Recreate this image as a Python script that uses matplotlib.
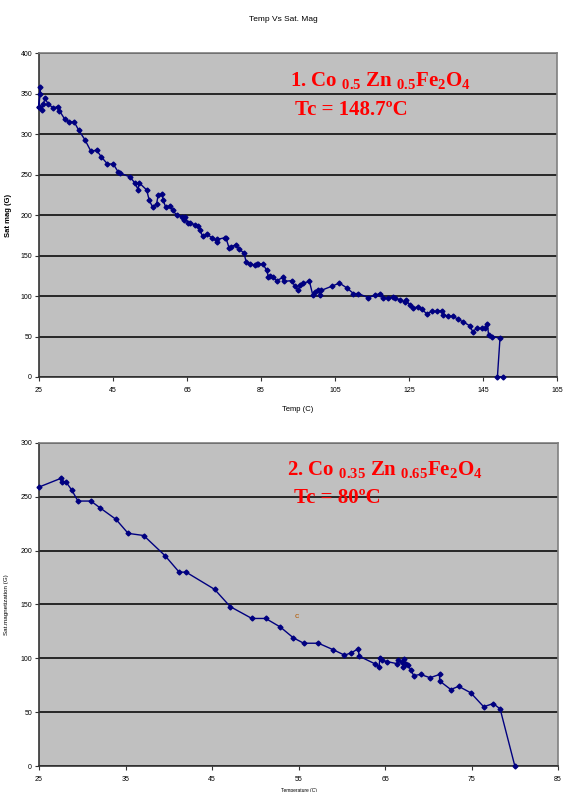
import matplotlib
matplotlib.use("Agg")
import matplotlib.pyplot as plt

plt.rcParams['font.family'] = ['Liberation Sans Narrow', 'Liberation Sans', 'DejaVu Sans']
plt.rcParams['mathtext.fontset'] = 'custom'
plt.rcParams['mathtext.rm'] = 'Liberation Serif:bold'
plt.rcParams['mathtext.default'] = 'rm'

# Sample 1: Co0.5 Zn0.5 Fe2O4
temp1 = [25.0, 25.2, 25.3, 25.0, 25.7, 26.2, 26.6, 27.5, 28.9, 30.0, 30.5, 32.0, 33.2, 34.5,
         35.7, 37.4, 39.0, 40.6, 41.8, 43.5, 45.1, 46.4, 46.8, 49.6, 51.0, 51.8, 52.0, 54.1,
         54.8, 55.7, 56.8, 57.2, 58.2, 58.6, 59.2, 60.4, 61.1, 62.2, 63.6, 64.2, 64.4, 65.4,
         65.8, 67.2, 68.1, 68.5, 69.2, 70.5, 71.7, 73.0, 73.2, 75.3, 75.5, 76.4, 76.8, 78.2,
         79.1, 80.4, 81.0, 82.0, 83.4, 83.8, 84.3, 85.6, 86.5, 87.0, 87.5, 88.3, 89.2, 91.0,
         91.1, 93.3, 94.2, 95.1, 95.5, 96.4, 98.1, 99.0, 99.6, 100.5, 101.0, 101.3, 104.1,
         106.2, 108.2, 110.0, 111.3, 114.0, 115.8, 117.2, 118.1, 119.4, 120.8, 121.2, 122.6,
         123.9, 124.1, 125.3, 126.2, 127.5, 128.4, 129.8, 131.1, 132.5, 133.8, 134.3, 135.6,
         137.0, 138.3, 139.7, 141.5, 142.2, 143.3, 144.7, 145.6, 146.2, 146.5, 147.4, 149.6,
         148.9, 150.3]
mag1 = [334, 350, 358, 333, 330, 337, 344, 337, 332, 334, 329, 318, 315, 315,
        305, 293, 279, 280, 272, 263, 263, 253, 252, 247, 239, 231, 240, 231,
        218, 210, 214, 225, 226, 218, 210, 211, 206, 200, 198, 194, 198, 190,
        190, 188, 186, 181, 174, 176, 172, 167, 170, 172, 172, 159, 161, 163,
        158, 153, 142, 140, 138, 140, 140, 139, 132, 124, 125, 123, 119, 123,
        118, 119, 112, 107, 114, 116, 118, 101, 105, 107, 101, 107, 112,
        116, 110, 103, 103, 98, 101, 103, 98, 97, 99, 98, 95,
        93, 95, 89, 85, 87, 84, 78, 81, 81, 82, 77, 75,
        75, 71, 68, 63, 56, 60, 60, 61, 66, 52, 50, 48,
        0, 0]

# Sample 2: Co0.35 Zn0.65 Fe2O4
temp2 = [25.0, 27.5, 27.6, 28.1, 28.8, 29.5, 31.0, 32.0, 33.9, 35.3, 37.1, 39.6, 41.2, 42.0,
         45.3, 47.1, 49.6, 51.2, 52.9, 54.4, 55.6, 57.3, 59.0, 60.3, 61.1, 61.9, 62.0, 63.8,
         64.3, 64.4, 64.7, 65.2, 66.4, 66.5, 66.9, 67.1, 67.2, 67.4, 67.6, 68.0, 68.3, 69.1,
         70.2, 71.3, 71.3, 72.6, 73.5, 74.9, 76.4, 77.5, 78.3, 80.0]
mag2 = [259, 267, 264, 264, 256, 246, 246, 240, 229, 216, 214, 195, 180, 180,
        164, 148, 137, 137, 129, 119, 114, 114, 108, 103, 105, 109, 102, 95,
        92, 100, 98, 97, 95, 98, 97, 92, 99, 95, 94, 89, 84, 85,
        82, 85, 79, 71, 74, 68, 55, 58, 53, 0]

yticks1 = [0, 50, 100, 150, 200, 250, 300, 350, 400]
xticks1 = [25, 45, 65, 85, 105, 125, 145, 165]
yticks2 = [0, 50, 100, 150, 200, 250, 300]
xticks2 = [25, 35, 45, 55, 65, 75, 85]

line_col = '#000080'
red = '#ff0000'

fig = plt.figure(figsize=(5.63, 7.92), dpi=100)
fig.text(0.503, 0.975, 'Temp Vs Sat. Mag', ha='center', va='center', fontsize=6)

ax1 = fig.add_axes([0.0693, 0.524, 0.920, 0.409])
ax2 = fig.add_axes([0.0693, 0.0328, 0.922, 0.408])


def style(ax, xt, yt):
    ax.set_facecolor('#c0c0c0')
    ax.set_xlim(xt[0], xt[-1])
    ax.set_ylim(yt[0], yt[-1])
    ax.set_xticks(xt)
    ax.set_yticks(yt)
    ax.yaxis.grid(True, color='#1a1a1a', linewidth=1.3)
    ax.set_axisbelow(True)
    for side in ('top', 'right'):
        ax.spines[side].set_color('#808080')
        ax.spines[side].set_linewidth(1.2)
    for side in ('left', 'bottom'):
        ax.spines[side].set_color('#333333')
        ax.spines[side].set_linewidth(1.2)
    ax.tick_params(axis='both', labelsize=5, length=3, width=0.8, pad=2, color='#333333')
    ax.tick_params(axis='x', pad=4)


style(ax1, xticks1, yticks1)
ax1.plot(temp1, mag1, color=line_col, linewidth=1, marker='D', markersize=2.5,
         clip_on=False, zorder=3)
ax1.set_xlabel('Temp (C)', fontsize=5.5, labelpad=9)
ax1.set_ylabel('Sat mag (G)', fontsize=5.5, fontweight='bold', labelpad=6)
ax1.text(0.485, 0.915, '1. Co ${}_{0.5}$ Zn ${}_{0.5}$Fe$_2$O$_4$', transform=ax1.transAxes,
         color=red, fontsize=15, fontweight='bold', family='Liberation Serif',
         ha='left', va='center')
ax1.text(0.495, 0.825, 'Tc = 148.7ºC', transform=ax1.transAxes,
         color=red, fontsize=15, fontweight='bold', family='Liberation Serif',
         ha='left', va='center')

style(ax2, xticks2, yticks2)
ax2.plot(temp2, mag2, color=line_col, linewidth=1, marker='D', markersize=2.5,
         clip_on=False, zorder=3)
ax2.set_xlabel('Temperature (C)', fontsize=3.5, labelpad=4)
ax2.set_ylabel('Sat.magnetization (G)', fontsize=4.5, labelpad=8)
ax2.text(54.8, 139, 'c', color='#b35900', fontsize=6, ha='center', va='center')
ax2.text(0.477, 0.918, '2. Co ${}_{0.35}$ Zn ${}_{0.65}$Fe$_2$O$_4$', transform=ax2.transAxes,
         color=red, fontsize=15, fontweight='bold', family='Liberation Serif',
         ha='left', va='center')
ax2.text(0.492, 0.83, 'Tc = 80ºC', transform=ax2.transAxes,
         color=red, fontsize=15, fontweight='bold', family='Liberation Serif',
         ha='left', va='center')

fig.savefig('out.png', dpi=100)
